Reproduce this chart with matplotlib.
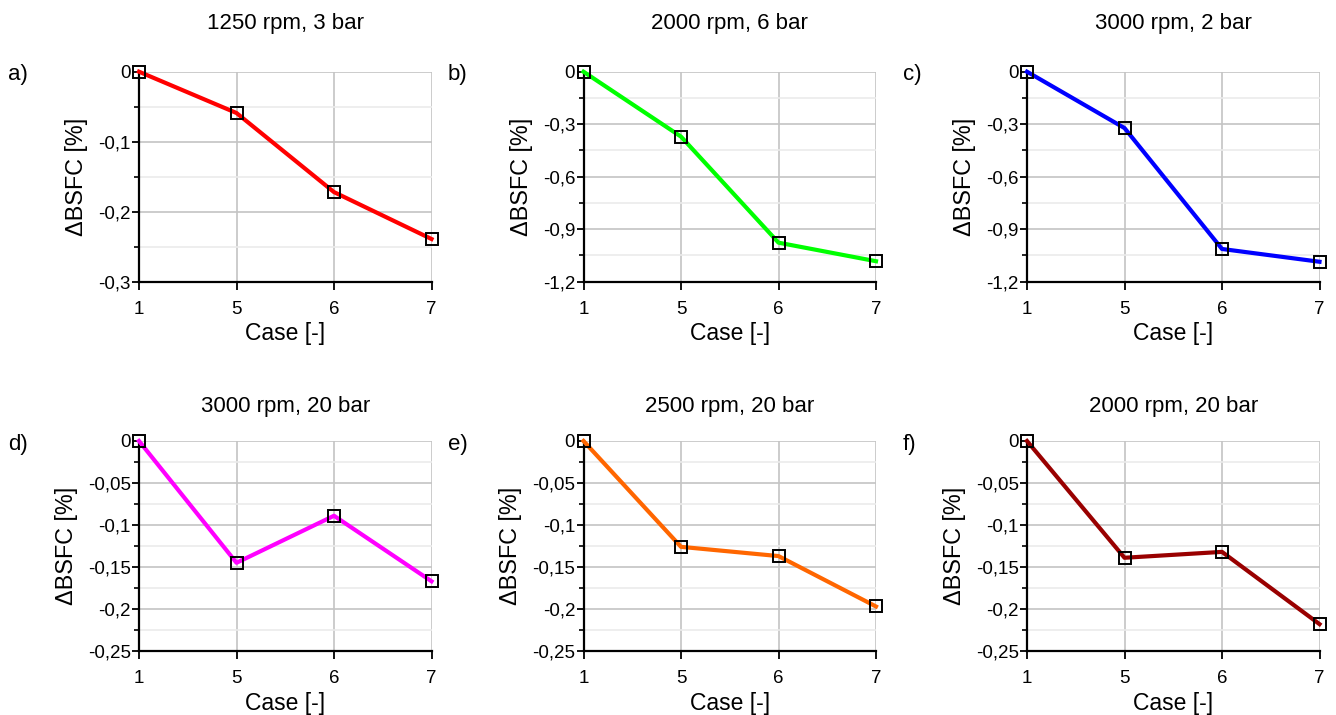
import matplotlib
matplotlib.use("Agg")
import matplotlib.pyplot as plt
from matplotlib.ticker import MultipleLocator, FuncFormatter

plt.rcParams['font.family'] = ['Liberation Sans', 'DejaVu Sans']

cases = ["1", "5", "6", "7"]
titles = ["1250 rpm, 3 bar", "2000 rpm, 6 bar", "3000 rpm, 2 bar",
          "3000 rpm, 20 bar", "2500 rpm, 20 bar", "2000 rpm, 20 bar"]
letters = ["a)", "b)", "c)", "d)", "e)", "f)"]
colors = ["#ff0000", "#00ff00", "#0000ff", "#ff00ff", "#ff6600", "#990000"]

dbsfc_a = [0.0, -0.059, -0.172, -0.239]
dbsfc_b = [0.0, -0.371, -0.977, -1.083]
dbsfc_c = [0.0, -0.322, -1.013, -1.086]
dbsfc_d = [0.0, -0.145, -0.089, -0.167]
dbsfc_e = [0.0, -0.126, -0.137, -0.197]
dbsfc_f = [0.0, -0.139, -0.132, -0.218]
series = [dbsfc_a, dbsfc_b, dbsfc_c, dbsfc_d, dbsfc_e, dbsfc_f]

ymins = [-0.3, -1.2, -1.2, -0.25, -0.25, -0.25]
ymajor = [0.1, 0.3, 0.3, 0.05, 0.05, 0.05]

W, H = 1336, 715
fig = plt.figure(figsize=(W / 100, H / 100), dpi=100)

lefts = [139, 583.5, 1027]
axw = 292.5
tops = [71.7, 441]
axh = 210
title_pads = [31, 21]
letter_x = [8, 448, 903]
letter_dy = [3, 3]


def comma_fmt(v, pos):
    if abs(v) < 1e-9:
        return "0"
    s = ("%.3f" % v).rstrip("0").rstrip(".")
    return s.replace(".", ",")


for i in range(6):
    r, c = divmod(i, 3)
    x0 = lefts[c]
    y0 = tops[r]
    ax = fig.add_axes([x0 / W, 1 - (y0 + axh) / H, axw / W, axh / H])
    xs = list(range(len(cases)))
    ax.plot(xs, series[i], color=colors[i], lw=3.0, zorder=3,
            marker="s", ms=8.5, mfc="none", mec="black", mew=1.4,
            clip_on=False)
    ax.set_xlim(0, len(cases) - 1)
    ax.set_ylim(ymins[i], 0)
    ax.set_xticks(xs)
    ax.set_xticklabels(cases)
    ax.yaxis.set_major_locator(MultipleLocator(ymajor[i]))
    ax.yaxis.set_minor_locator(MultipleLocator(ymajor[i] / 2))
    ax.yaxis.set_major_formatter(FuncFormatter(comma_fmt))
    for sp in ["top", "right"]:
        ax.spines[sp].set_visible(False)
    for sp in ["left", "bottom"]:
        ax.spines[sp].set_linewidth(1.6)
        ax.spines[sp].set_color("black")
    ax.grid(True, which="major", color="#c4c4c4", lw=1.2, zorder=0)
    ax.grid(True, which="minor", axis="y", color="#ebebeb", lw=1.2, zorder=0)
    ax.set_axisbelow(True)
    ax.tick_params(axis="y", which="major", direction="out", length=5,
                   width=1.3, labelsize=13.5, pad=1)
    ax.tick_params(axis="x", which="major", direction="out", length=6,
                   width=1.3, labelsize=13.5, pad=8)
    ax.tick_params(axis="y", which="minor", direction="out", length=3.5, width=1.2)
    ax.set_xlabel("Case [-]", fontsize=16.5, labelpad=3)
    ax.set_ylabel("ΔBSFC [%]", fontsize=16.8, labelpad=7)
    ax.set_title(titles[i], fontsize=16, pad=title_pads[r])
    fig.text(letter_x[c] / W, 1 - (y0 + letter_dy[r]) / H, letters[i],
             fontsize=16, ha="left", va="center")

fig.savefig("out.png", dpi=100, facecolor="white")
